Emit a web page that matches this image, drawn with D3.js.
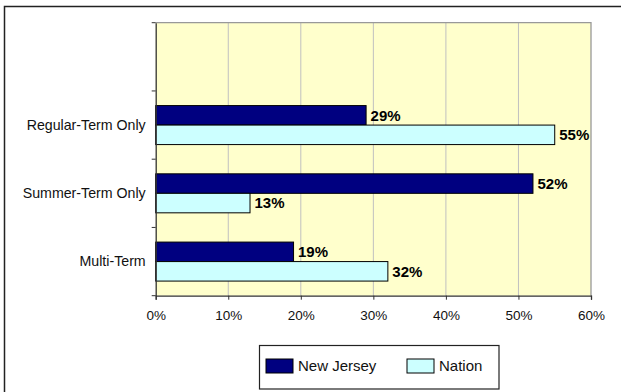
<!DOCTYPE html>
<html>
<head>
<meta charset="utf-8">
<script src="https://cdn.jsdelivr.net/npm/d3@7"></script>
<style>
  html, body { margin: 0; padding: 0; background: #fff; }
  svg { display: block; font-family: "Liberation Sans", Arial, sans-serif; }
</style>
</head>
<body>
<svg id="chart" width="621" height="392"></svg>
<script>
// Data
const categories = ["", "Regular-Term Only", "Summer-Term Only", "Multi-Term"];
const seriesNames = ["New Jersey", "Nation"];
const newJersey = [null, 29, 52, 19];
const nation = [null, 55, 13, 32];
const xTicks = [0, 10, 20, 30, 40, 50, 60];
const seriesColors = ["#000080", "#CCFFFF"];

const svg = d3.select("#chart");

// outer border (right & bottom edges fall outside the view)
svg.append("rect")
  .attr("x", 4.5).attr("y", 6.5).attr("width", 700).attr("height", 500)
  .attr("fill", "none").attr("stroke", "#222").attr("stroke-width", 1.5);

const plot = { left: 155.7, right: 591, top: 22.7, bottom: 295.7 };

const x = d3.scaleLinear().domain([0, 60]).range([plot.left, plot.right]);
const y = d3.scaleBand().domain(categories).range([plot.top, plot.bottom]).padding(0);
const bw = y.bandwidth();
const barH = bw / 3.5;
const y1 = d3.scaleBand().domain(seriesNames)
  .range([barH * 0.75, barH * 0.75 + 2 * barH]).padding(0);

// plot background
svg.append("rect")
  .attr("x", plot.left).attr("y", plot.top)
  .attr("width", plot.right - plot.left).attr("height", plot.bottom - plot.top)
  .attr("fill", "#FFFFCC");

// gridlines
svg.append("g").selectAll("line")
  .data(xTicks.slice(1, -1))
  .join("line")
  .attr("x1", d => x(d)).attr("x2", d => x(d))
  .attr("y1", plot.top).attr("y2", plot.bottom)
  .attr("stroke", "#C0C0C0").attr("stroke-width", 1);

// plot border top/right
svg.append("path")
  .attr("d", `M${plot.left},${plot.top}H${plot.right}V${plot.bottom}`)
  .attr("fill", "none").attr("stroke", "#999").attr("stroke-width", 1.3);

// bars
const rows = [];
categories.forEach((c, i) => {
  [newJersey[i], nation[i]].forEach((v, s) => {
    if (v != null) rows.push({ cat: c, series: seriesNames[s], value: v, color: seriesColors[s] });
  });
});

const g = svg.append("g");
g.selectAll("rect")
  .data(rows)
  .join("rect")
  .attr("x", x(0))
  .attr("y", d => y(d.cat) + y1(d.series))
  .attr("width", d => x(d.value) - x(0))
  .attr("height", y1.bandwidth())
  .attr("fill", d => d.color)
  .attr("stroke", "#000").attr("stroke-width", 1);

// value labels
g.selectAll("text")
  .data(rows)
  .join("text")
  .attr("x", d => x(d.value) + 4.5)
  .attr("y", d => y(d.cat) + y1(d.series) + y1.bandwidth() / 2)
  .attr("dy", "0.36em")
  .attr("font-size", 15).attr("font-weight", "bold").attr("fill", "#000")
  .text(d => d.value + "%");

// x axis
const xAxis = d3.axisBottom(x).tickValues(xTicks).tickSize(4).tickPadding(11)
  .tickFormat(d => d + "%");
const xg = svg.append("g").attr("transform", `translate(0,${plot.bottom})`).call(xAxis);
xg.select(".domain").attr("stroke", "#333").attr("stroke-width", 1.3);
xg.selectAll(".tick line").attr("stroke", "#333");
xg.selectAll(".tick text").attr("font-size", 13.5).attr("fill", "#111")
  .attr("font-family", "'Liberation Sans', Arial, sans-serif");

// y axis
const yAxis = d3.axisLeft(y).tickSize(0).tickPadding(10);
const yg = svg.append("g").attr("transform", `translate(${plot.left},0)`).call(yAxis);
yg.select(".domain").attr("stroke", "#333").attr("stroke-width", 1.3);
yg.selectAll(".tick text").attr("font-size", 14.2).attr("fill", "#111")
  .attr("font-family", "'Liberation Sans', Arial, sans-serif");
// category boundary ticks
const bounds = categories.map(c => y(c)).concat([plot.bottom]);
svg.append("g").selectAll("line").data(bounds).join("line")
  .attr("x1", plot.left - 4).attr("x2", plot.left)
  .attr("y1", d => d).attr("y2", d => d)
  .attr("stroke", "#333");

// legend
const lg = svg.append("g");
lg.append("rect")
  .attr("x", 259.5).attr("y", 345.5).attr("width", 239.5).attr("height", 43.5)
  .attr("fill", "#fff").attr("stroke", "#222").attr("stroke-width", 1.2);
const legendItems = [
  { name: seriesNames[0], color: seriesColors[0], x: 266 },
  { name: seriesNames[1], color: seriesColors[1], x: 407 }
];
const li = lg.selectAll("g.item").data(legendItems).join("g").attr("class", "item");
li.append("rect")
  .attr("x", d => d.x).attr("y", 359).attr("width", 27).attr("height", 14)
  .attr("fill", d => d.color).attr("stroke", "#000").attr("stroke-width", 1);
li.append("text")
  .attr("x", d => d.x + 32).attr("y", 366).attr("dy", "0.36em")
  .attr("font-size", 15).attr("fill", "#111")
  .text(d => d.name);
</script>
</body>
</html>
